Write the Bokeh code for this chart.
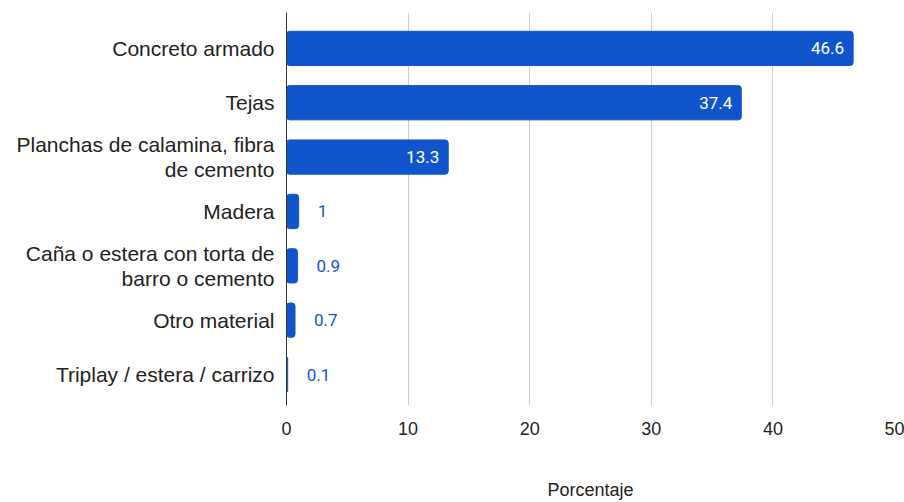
from bokeh.plotting import figure
from bokeh.models import ColumnDataSource, FixedTicker, Range1d
from bokeh.core.properties import value
from bokeh.embed import file_html
from bokeh.resources import INLINE

categories = [
    "Concreto armado",
    "Tejas",
    "Planchas de calamina, fibra\nde cemento",
    "Madera",
    "Caña o estera con torta de\nbarro o cemento",
    "Otro material",
    "Triplay / estera / carrizo",
]
porcentaje = [46.6, 37.4, 13.3, 1.0, 0.9, 0.7, 0.1]
value_labels = ["46.6", "37.4", "13.3", "1", "0.9", "0.7", "0.1"]
x_ticks = [0, 10, 20, 30, 40, 50]

BAR = "#1155CC"
idx = list(range(len(categories)))
inside = [v > 5 for v in porcentaje]

src_in = ColumnDataSource(dict(
    y=[i for i, f in zip(idx, inside) if f],
    x=[v for v, f in zip(porcentaje, inside) if f],
    t=[t for t, f in zip(value_labels, inside) if f],
))
src_out = ColumnDataSource(dict(
    y=[i for i, f in zip(idx, inside) if not f],
    x=[v for v, f in zip(porcentaje, inside) if not f],
    t=[t for t, f in zip(value_labels, inside) if not f],
))
src = ColumnDataSource(dict(y=idx, x=porcentaje))

p = figure(width=904, height=502, output_backend="svg", toolbar_location=None,
           x_range=Range1d(0, 50), y_range=Range1d(6.57, -0.66),
           min_border_left=286, min_border_right=10, min_border_top=12,
           min_border_bottom=97)
p.outline_line_color = None
p.background_fill_color = "white"
p.border_fill_color = "white"

p.hbar(y="y", right="x", left=0, height=0.63, source=src, color=BAR,
       border_radius=3)

p.text(x="x", y="y", text="t", source=src_in, x_offset=-9,
       text_align="right", text_baseline="middle", text_color="white",
       text_font=value("Roboto"), text_font_size="17px")
p.text(x="x", y="y", text="t", source=src_out, x_offset=19,
       text_align="left", text_baseline="middle", text_color=BAR,
       text_font=value("Roboto"), text_font_size="17px")

# y axis
p.yaxis.ticker = FixedTicker(ticks=idx)
p.yaxis.major_label_overrides = {i: c for i, c in zip(idx, categories)}
p.yaxis.major_label_text_font = "Liberation Sans"
p.yaxis.major_label_text_font_size = "21px"
p.yaxis.major_label_text_line_height = 1.1
p.yaxis.major_label_text_color = "#222222"
p.yaxis.major_tick_line_color = None
p.yaxis.minor_tick_line_color = None
p.yaxis.axis_line_color = "#333333"
p.yaxis.axis_line_width = 1
p.yaxis.major_label_standoff = 6

# x axis
p.xaxis.ticker = FixedTicker(ticks=x_ticks)
p.xaxis.major_label_text_font = "Liberation Sans"
p.xaxis.major_label_text_font_size = "18px"
p.xaxis.major_label_text_color = "#222222"
p.xaxis.major_tick_line_color = None
p.xaxis.minor_tick_line_color = None
p.xaxis.axis_line_color = None
p.xaxis.major_label_standoff = 10
p.xaxis.axis_label = "Porcentaje"
p.xaxis.axis_label_text_font = "Liberation Sans"
p.xaxis.axis_label_text_font_style = "normal"
p.xaxis.axis_label_text_font_size = "18px"
p.xaxis.axis_label_text_color = "#222222"
p.xaxis.axis_label_standoff = 42

p.xgrid.grid_line_color = "#cccccc"
p.ygrid.grid_line_color = None

open("out.html", "w").write(file_html(p, INLINE))
